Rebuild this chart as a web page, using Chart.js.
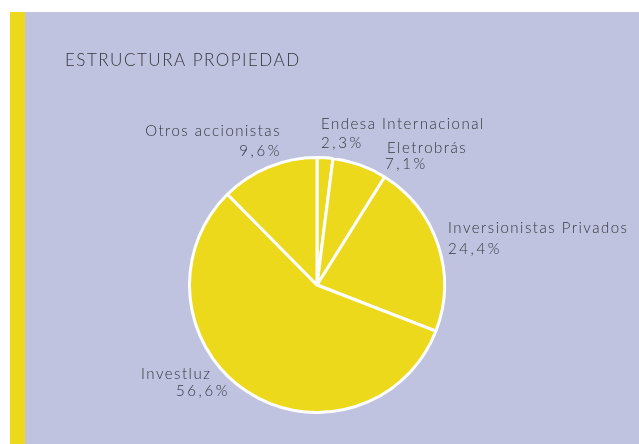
<!DOCTYPE html>
<html>
<head>
<meta charset="utf-8">
<script src="https://cdn.jsdelivr.net/npm/chart.js@4"></script>
<style>
    html, body { margin: 0; padding: 0; background: #fff; }
    #wrap { width: 639px; height: 444px; position: relative; }
</style>
</head>
<body>
<div id="wrap"><canvas id="myChart" width="639" height="444"></canvas></div>
<script>
const title = 'ESTRUCTURA PROPIEDAD';
const labels = ['Endesa Internacional', 'Eletrobrás', 'Inversionistas Privados', 'Investluz', 'Otros accionistas'];
// slice sizes as drawn in the picture (the printed percentages differ slightly)
const values = [2.0, 6.9, 22.0, 56.7, 12.4];
const valueText = ['2,3%', '7,1%', '24,4%', '56,6%', '9,6%'];

// where each label sits: [x, baseline y of name, align name, x of value, baseline of value, align value]
const labelLayout = [
    [321, 129, 'left', 321, 148, 'left'],
    [387, 153, 'left', 385, 169, 'left'],
    [448, 233, 'left', 448, 254, 'left'],
    [141, 379, 'left', 230, 396, 'right'],
    [281, 136, 'right', 282, 156, 'right']
];

const BG = '#bfc3df';
const YELLOW = '#ecd91b';
const TEXT = '#36363d';

const framePlugin = {
    id: 'frame',
    beforeDraw(chart) {
        const ctx = chart.ctx;
        ctx.save();
        ctx.fillStyle = '#ffffff';
        ctx.fillRect(0, 0, chart.width, chart.height);
        ctx.fillStyle = BG;
        ctx.fillRect(10, 12, chart.width - 10, chart.height - 12);
        ctx.fillStyle = YELLOW;
        ctx.fillRect(10, 12, 15, chart.height - 12);
        ctx.restore();
    },
    afterDraw(chart) {
        const ctx = chart.ctx;
        ctx.save();
        ctx.fillStyle = TEXT;
        ctx.textBaseline = 'alphabetic';
        ctx.font = '300 17px Lato';
        ctx.letterSpacing = '1.5px';
        ctx.textAlign = 'left';
        ctx.fillText(title, 65, 66);

        labels.forEach((name, i) => {
            const l = labelLayout[i];
            ctx.font = '300 15px Lato';
            ctx.letterSpacing = '1.5px';
            ctx.textAlign = l[2];
            ctx.fillText(name, l[0], l[1]);
            ctx.letterSpacing = '2.6px';
            ctx.textAlign = l[5];
            ctx.fillText(valueText[i], l[3], l[4]);
        });
        ctx.restore();
    }
};

const ctx = document.getElementById('myChart').getContext('2d');
const myChart = new Chart(ctx, {
    type: 'pie',
    data: {
        labels: labels,
        datasets: [{
            data: values,
            backgroundColor: YELLOW,
            borderColor: '#ffffff',
            borderWidth: 3
        }]
    },
    options: {
        responsive: false,
        animation: false,
        layout: {
            padding: { left: 188, right: 193, top: 156, bottom: 30 }
        },
        plugins: {
            legend: { display: false },
            tooltip: { enabled: false }
        }
    },
    plugins: [framePlugin]
});
</script>
</body>
</html>
